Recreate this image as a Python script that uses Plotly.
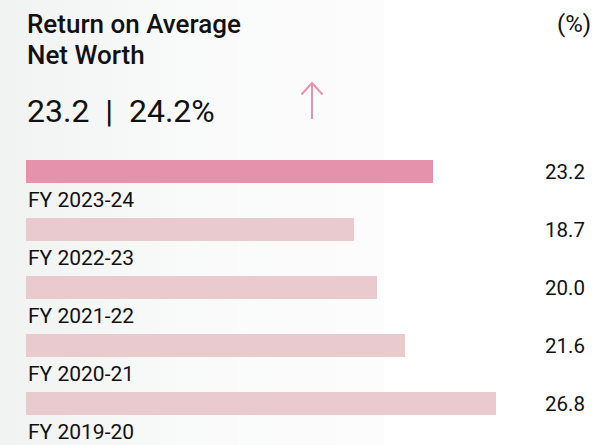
import plotly.graph_objects as go

categories = ["FY 2023-24", "FY 2022-23", "FY 2021-22", "FY 2020-21", "FY 2019-20"]
values = [23.2, 18.7, 20.0, 21.6, 26.8]
value_labels = ["23.2", "18.7", "20.0", "21.6", "26.8"]
title_lines = ["Return on Average", "Net Worth"]
headline_text = "23.2  |  24.2%"
unit_text = "(%)"

W, H = 594, 445
def px(x):
    return x / W
def py(y):
    return 1 - y / H

bar_colors = ["#e593ad"] + ["#e9cacf"] * (len(values) - 1)

fig = go.Figure()
fig.add_trace(go.Bar(
    x=values, y=categories, orientation="h",
    marker=dict(color=bar_colors, line=dict(width=0)),
    width=0.4, hoverinfo="skip",
))

FONT = "Roboto"
INK = "#111111"
ann = []
for c, lab in zip(categories, value_labels):
    ann.append(dict(x=px(587), xref="paper", y=c, yref="y", text=lab,
                    showarrow=False, xanchor="right", yanchor="middle",
                    font=dict(family=FONT, size=20.5, color=INK)))
    ann.append(dict(x=0, xref="x", y=c, yref="y", text=c, yshift=-28,
                    showarrow=False, xanchor="left", yanchor="middle",
                    font=dict(family=FONT, size=21, color=INK)))

for line, yc in zip(title_lines, [24, 54.5]):
    ann.append(dict(x=px(24.5), xref="paper", y=py(yc), yref="paper", text=line,
                    showarrow=False, xanchor="left", yanchor="middle", align="left",
                    font=dict(family=FONT, size=26, color=INK, weight=500)))
ann.append(dict(x=px(24.5), xref="paper", y=py(110.5), yref="paper", text=headline_text,
                showarrow=False, xanchor="left", yanchor="middle", align="left",
                font=dict(family=FONT, size=32, color=INK)))
ann.append(dict(x=px(593), xref="paper", y=py(24), yref="paper", text=unit_text,
                showarrow=False, xanchor="right", yanchor="middle",
                font=dict(family=FONT, size=24, color=INK)))

shapes = []
# subtle left-to-right background gradient
stops = [(0, (241, 243, 243)), (190, (249, 250, 250)), (383, (253, 252, 253))]
steps_per = 12
for (xa, ca), (xb, cb) in zip(stops[:-1], stops[1:]):
    for i in range(steps_per):
        t = (i + 0.5) / steps_per
        x0 = xa + (xb - xa) * i / steps_per
        x1 = xa + (xb - xa) * (i + 1) / steps_per
        col = tuple(round(a + (b - a) * t) for a, b in zip(ca, cb))
        shapes.append(dict(type="rect", xref="paper", yref="paper",
                           x0=px(x0), x1=px(x1 + 0.6), y0=0, y1=1,
                           fillcolor=f"rgb{col}", line=dict(width=0), layer="below"))
# arrow
arrow_color = "#e991ad"
shapes.append(dict(type="line", xref="paper", yref="paper",
                   x0=px(312), x1=px(312), y0=py(83), y1=py(119),
                   line=dict(color=arrow_color, width=2)))
shapes.append(dict(type="path", xref="paper", yref="paper",
                   path=f"M {px(301.5)} {py(94.5)} L {px(312)} {py(83)} L {px(322.5)} {py(94.5)}",
                   line=dict(color=arrow_color, width=2)))

scale = 17.53  # px per unit
x_lo = -26 / scale
x_hi = (W - 26) / scale
top_r = -171.5 / 58
bot_r = top_r + H / 58

fig.update_layout(
    width=W, height=H,
    margin=dict(l=0, r=0, t=0, b=0, pad=0),
    paper_bgcolor="#ffffff", plot_bgcolor="rgba(0,0,0,0)",
    showlegend=False,
    xaxis=dict(range=[x_lo, x_hi], visible=False, fixedrange=True),
    yaxis=dict(range=[bot_r, top_r], visible=False, type="category",
               categoryorder="array", categoryarray=categories, fixedrange=True),
    annotations=ann, shapes=shapes,
    bargap=0,
)

fig.write_html("out.html", config={"displayModeBar": False},
               post_script="document.body.style.margin='0px';")
